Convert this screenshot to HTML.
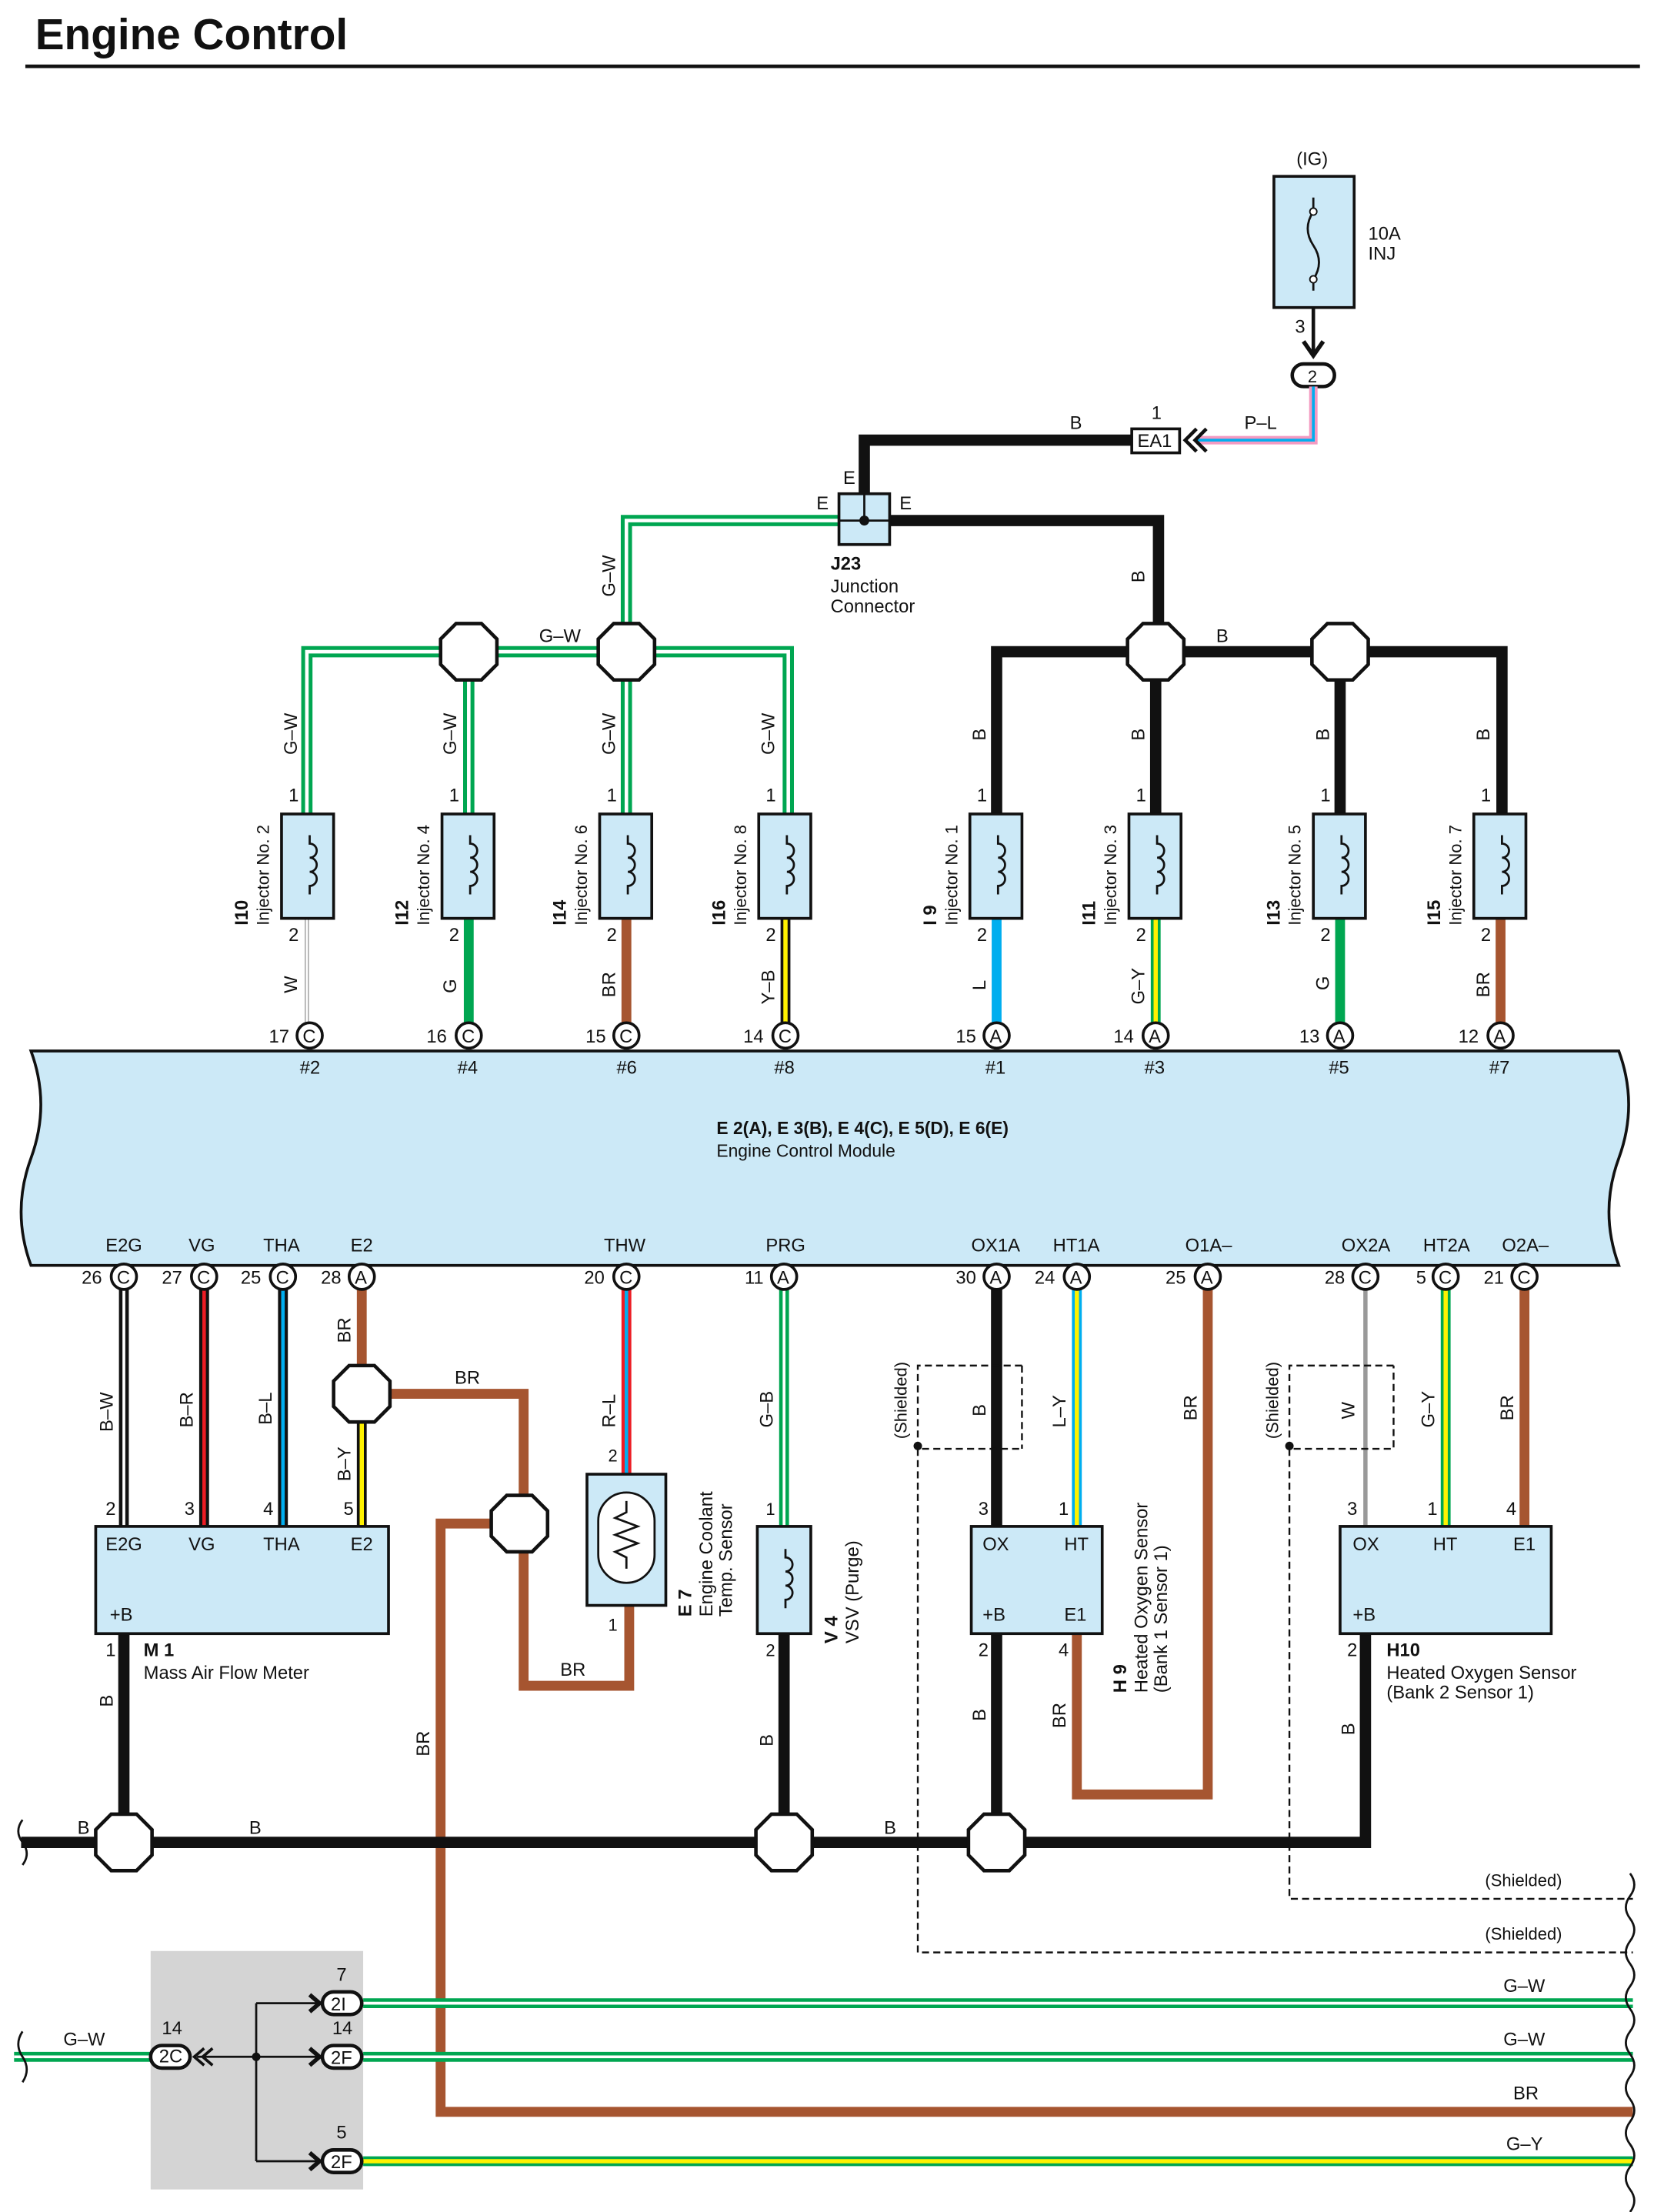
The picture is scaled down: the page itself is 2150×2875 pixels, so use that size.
<!DOCTYPE html>
<html><head><meta charset="utf-8"><style>
html,body{margin:0;padding:0;background:#fff;}
svg{display:block}
text{font-family:"Liberation Sans",Arial,sans-serif;font-size:13px;fill:#111}
</style></head><body>
<svg width="2150" height="2875" viewBox="0 0 1175 1568" preserveAspectRatio="none" xmlns="http://www.w3.org/2000/svg">
<defs>
<g id="oct"><polygon points="-9,-20 9,-20 20,-9 20,9 9,20 -9,20 -20,9 -20,-9" fill="#fff" stroke="#111" stroke-width="2.5"/></g>
<g id="coil"><path d="M-2,-22 v6 a5,5 0 1 1 0,10 a5,5 0 1 1 0,10 a5,5 0 1 1 0,10 v6" fill="none" stroke="#111" stroke-width="1.5"/></g>
</defs>
<text x="25" y="35" style="font-size:31px;font-weight:bold">Engine Control</text>
<line x1="18" y1="47" x2="1165" y2="47" stroke="#111" stroke-width="2.5"/>

<!-- fuse -->
<text x="921" y="117">(IG)</text>
<rect x="905" y="125" width="57" height="93" fill="#cce9f7" stroke="#111" stroke-width="2"/>
<path d="M933,140 v10 q-8,12 0,24 q8,12 0,24 v8" fill="none" stroke="#111" stroke-width="1.5"/>
<circle cx="933" cy="150" r="2.5" fill="#fff" stroke="#111"/><circle cx="933" cy="198" r="2.5" fill="#fff" stroke="#111"/>
<text x="972" y="170">10A</text><text x="972" y="184">INJ</text>
<text x="920" y="236">3</text>
<line x1="933" y1="218" x2="933" y2="252" stroke="#111" stroke-width="2.5"/>
<path d="M926,242 l7,10 l7,-10" fill="none" stroke="#111" stroke-width="3"/>
<rect x="918" y="258" width="30" height="16" rx="8" fill="#fff" stroke="#111" stroke-width="2.5"/>
<text x="929" y="271" style="font-size:12px">2</text>
<path d="M933,274 V312 H850" fill="none" stroke="#f49ac1" stroke-width="6"/>
<path d="M933,274 V312 H850" fill="none" stroke="#00aeef" stroke-width="2"/>
<text x="884" y="304">P–L</text>
<path d="M850,304 l-8,8 l8,8 M857,304 l-8,8 l8,8" fill="none" stroke="#111" stroke-width="2.5"/>
<rect x="804" y="304" width="34" height="17" fill="#fff" stroke="#111" stroke-width="2"/>
<text x="808" y="317">EA1</text><text x="818" y="297">1</text>
<path d="M804,312 H614 V352" fill="none" stroke="#111" stroke-width="8"/>
<text x="760" y="304">B</text>
<!-- G-W from J23 -->
<path d="M596,369 H445 V462" fill="none" stroke="#00a651" stroke-width="8"/>
<path d="M596,369 H445 V462" fill="none" stroke="#fff" stroke-width="2.5"/>
<path d="M632,369 H823 V462" fill="none" stroke="#111" stroke-width="8"/>
<rect x="596" y="350" width="36" height="36" fill="#cce9f7" stroke="#111" stroke-width="2"/>
<path d="M614,350 V369 M596,369 H632" stroke="#111" stroke-width="1.5"/>
<circle cx="614" cy="369" r="3.5" fill="#111"/>
<text x="599" y="343">E</text><text x="580" y="361">E</text><text x="639" y="361">E</text>
<text x="590" y="404" style="font-weight:bold">J23</text>
<text x="590" y="420">Junction</text><text x="590" y="434">Connector</text>
<text transform="translate(437,423) rotate(-90)">G–W</text>
<text transform="translate(813,413) rotate(-90)">B</text>

<!-- G-W bus -->
<g fill="none">
<path d="M218,577 V462 H560 V577 M333,462 V577 M445,462 V577" stroke="#00a651" stroke-width="8"/>
<path d="M218,577 V462 H560 V577 M333,462 V577 M445,462 V577" stroke="#fff" stroke-width="2.5"/>
<path d="M708,577 V462 H1067 V577 M821,462 V577 M952,462 V577" stroke="#111" stroke-width="8"/>
</g>
<text x="383" y="455">G–W</text><text x="864" y="455">B</text>
<use href="#oct" x="333" y="462"/><use href="#oct" x="445" y="462"/><use href="#oct" x="821" y="462"/><use href="#oct" x="952" y="462"/>

<!-- injectors -->
<g id="injs">
<!-- lower wires -->
<line x1="218" y1="651" x2="218" y2="726" stroke="#999" stroke-width="3"/><line x1="218" y1="651" x2="218" y2="726" stroke="#fff" stroke-width="1.5"/>
<line x1="333" y1="651" x2="333" y2="726" stroke="#00a651" stroke-width="7"/>
<line x1="445" y1="651" x2="445" y2="726" stroke="#a65530" stroke-width="7"/>
<line x1="558" y1="651" x2="558" y2="726" stroke="#111" stroke-width="7"/><line x1="558" y1="651" x2="558" y2="726" stroke="#fff200" stroke-width="3"/>
<line x1="708" y1="651" x2="708" y2="726" stroke="#00aeef" stroke-width="7"/>
<line x1="821" y1="651" x2="821" y2="726" stroke="#00a651" stroke-width="7"/><line x1="821" y1="651" x2="821" y2="726" stroke="#fff200" stroke-width="3"/>
<line x1="952" y1="651" x2="952" y2="726" stroke="#00a651" stroke-width="7"/>
<line x1="1066" y1="651" x2="1066" y2="726" stroke="#a65530" stroke-width="7"/>
</g>
<g stroke="#111" stroke-width="2" fill="#cce9f7">
<rect x="200" y="577" width="37" height="74"/><rect x="314" y="577" width="37" height="74"/><rect x="426" y="577" width="37" height="74"/><rect x="539" y="577" width="37" height="74"/>
<rect x="689" y="577" width="37" height="74"/><rect x="802" y="577" width="37" height="74"/><rect x="933" y="577" width="37" height="74"/><rect x="1047" y="577" width="37" height="74"/>
</g>
<use href="#coil" x="222" y="614"/><use href="#coil" x="336" y="614"/><use href="#coil" x="448" y="614"/><use href="#coil" x="561" y="614"/>
<use href="#coil" x="711" y="614"/><use href="#coil" x="824" y="614"/><use href="#coil" x="955" y="614"/><use href="#coil" x="1069" y="614"/>
<g style="font-size:12px">
<text x="205" y="568">1</text><text x="205" y="667">2</text>
<text x="319" y="568">1</text><text x="319" y="667">2</text>
<text x="431" y="568">1</text><text x="431" y="667">2</text>
<text x="544" y="568">1</text><text x="544" y="667">2</text>
<text x="694" y="568">1</text><text x="694" y="667">2</text>
<text x="807" y="568">1</text><text x="807" y="667">2</text>
<text x="938" y="568">1</text><text x="938" y="667">2</text>
<text x="1052" y="568">1</text><text x="1052" y="667">2</text>
</g>
<g>
<text transform="translate(211,535) rotate(-90)">G–W</text><text transform="translate(324,535) rotate(-90)">G–W</text>
<text transform="translate(437,535) rotate(-90)">G–W</text><text transform="translate(550,535) rotate(-90)">G–W</text>
<text transform="translate(700,525) rotate(-90)">B</text><text transform="translate(813,525) rotate(-90)">B</text>
<text transform="translate(944,525) rotate(-90)">B</text><text transform="translate(1058,525) rotate(-90)">B</text>
<text transform="translate(211,704) rotate(-90)">W</text><text transform="translate(324,704) rotate(-90)">G</text>
<text transform="translate(437,707) rotate(-90)">BR</text><text transform="translate(550,712) rotate(-90)">Y–B</text>
<text transform="translate(700,702) rotate(-90)">L</text><text transform="translate(813,712) rotate(-90)">G–Y</text>
<text transform="translate(944,702) rotate(-90)">G</text><text transform="translate(1058,707) rotate(-90)">BR</text>
</g>
<g>
<text transform="translate(176,656) rotate(-90)" style="font-weight:bold">I10</text><text transform="translate(191,656) rotate(-90)" style="font-size:12px">Injector No. 2</text>
<text transform="translate(290,656) rotate(-90)" style="font-weight:bold">I12</text><text transform="translate(305,656) rotate(-90)" style="font-size:12px">Injector No. 4</text>
<text transform="translate(402,656) rotate(-90)" style="font-weight:bold">I14</text><text transform="translate(417,656) rotate(-90)" style="font-size:12px">Injector No. 6</text>
<text transform="translate(515,656) rotate(-90)" style="font-weight:bold">I16</text><text transform="translate(530,656) rotate(-90)" style="font-size:12px">Injector No. 8</text>
<text transform="translate(665,656) rotate(-90)" style="font-weight:bold">I 9</text><text transform="translate(680,656) rotate(-90)" style="font-size:12px">Injector No. 1</text>
<text transform="translate(778,656) rotate(-90)" style="font-weight:bold">I11</text><text transform="translate(793,656) rotate(-90)" style="font-size:12px">Injector No. 3</text>
<text transform="translate(909,656) rotate(-90)" style="font-weight:bold">I13</text><text transform="translate(924,656) rotate(-90)" style="font-size:12px">Injector No. 5</text>
<text transform="translate(1023,656) rotate(-90)" style="font-weight:bold">I15</text><text transform="translate(1038,656) rotate(-90)" style="font-size:12px">Injector No. 7</text>
</g>

<!-- ECM -->
<path d="M22,745 H1150 q14,38 0,76 q-14,38 0,76 H22 q-14,-38 0,-76 q14,-38 0,-76 Z" fill="#cce9f7" stroke="#111" stroke-width="2"/>
<g style="font-size:12px">
<text x="213" y="761">#2</text><text x="325" y="761">#4</text><text x="438" y="761">#6</text><text x="550" y="761">#8</text>
<text x="700" y="761">#1</text><text x="813" y="761">#3</text><text x="944" y="761">#5</text><text x="1058" y="761">#7</text>
</g>
<text x="509" y="804" style="font-weight:bold;font-size:12.5px">E 2(A), E 3(B), E 4(C), E 5(D), E 6(E)</text>
<text x="509" y="820" style="font-size:12.5px">Engine Control Module</text>
<g style="font-size:12.5px">
<text x="75" y="887">E2G</text><text x="134" y="887">VG</text><text x="187" y="887">THA</text><text x="249" y="887">E2</text>
<text x="429" y="887">THW</text><text x="544" y="887">PRG</text><text x="690" y="887">OX1A</text><text x="748" y="887">HT1A</text><text x="842" y="887">O1A–</text>
<text x="953" y="887">OX2A</text><text x="1011" y="887">HT2A</text><text x="1067" y="887">O2A–</text>
</g>

<!-- upper pins -->
<g stroke="#111" stroke-width="2" fill="#fff">
<circle cx="220" cy="734" r="9"/><circle cx="333" cy="734" r="9"/><circle cx="445" cy="734" r="9"/><circle cx="558" cy="734" r="9"/>
<circle cx="708" cy="734" r="9"/><circle cx="821" cy="734" r="9"/><circle cx="952" cy="734" r="9"/><circle cx="1066" cy="734" r="9"/>
</g>
<g style="font-size:12px">
<text x="215" y="739">C</text><text x="328" y="739">C</text><text x="440" y="739">C</text><text x="553" y="739">C</text>
<text x="703" y="739">A</text><text x="816" y="739">A</text><text x="947" y="739">A</text><text x="1061" y="739">A</text>
<text x="191" y="739">17</text><text x="303" y="739">16</text><text x="416" y="739">15</text><text x="528" y="739">14</text>
<text x="679" y="739">15</text><text x="791" y="739">14</text><text x="923" y="739">13</text><text x="1036" y="739">12</text>
</g>

<!-- lower wires -->
<g fill="none">
<line x1="88" y1="914" x2="88" y2="1082" stroke="#111" stroke-width="7"/><line x1="88" y1="914" x2="88" y2="1082" stroke="#fff" stroke-width="2"/>
<line x1="145" y1="914" x2="145" y2="1082" stroke="#111" stroke-width="7"/><line x1="145" y1="914" x2="145" y2="1082" stroke="#ed1c24" stroke-width="2.5"/>
<line x1="201" y1="914" x2="201" y2="1082" stroke="#111" stroke-width="7"/><line x1="201" y1="914" x2="201" y2="1082" stroke="#00aeef" stroke-width="2.5"/>
<line x1="257" y1="1000" x2="257" y2="1082" stroke="#111" stroke-width="7"/><line x1="257" y1="1000" x2="257" y2="1082" stroke="#fff200" stroke-width="3"/>
<path d="M257,914 V988 H372 V1195 H447 V1138" stroke="#a65530" stroke-width="7"/>
<path d="M369,1080 H313 V1497 H1160" stroke="#a65530" stroke-width="7"/>
<line x1="445" y1="914" x2="445" y2="1045" stroke="#ed1c24" stroke-width="7"/><line x1="445" y1="914" x2="445" y2="1045" stroke="#00aeef" stroke-width="2.5"/>
<line x1="557" y1="914" x2="557" y2="1082" stroke="#00a651" stroke-width="7"/><line x1="557" y1="914" x2="557" y2="1082" stroke="#fff" stroke-width="2"/>
<line x1="708" y1="914" x2="708" y2="1082" stroke="#111" stroke-width="8"/>
<line x1="765" y1="914" x2="765" y2="1082" stroke="#00aeef" stroke-width="7"/><line x1="765" y1="914" x2="765" y2="1082" stroke="#fff200" stroke-width="3"/>
<path d="M858,914 V1272 H765 V1158" stroke="#a65530" stroke-width="7"/>
<line x1="970" y1="914" x2="970" y2="1082" stroke="#999" stroke-width="3"/>
<line x1="1027" y1="914" x2="1027" y2="1082" stroke="#00a651" stroke-width="7"/><line x1="1027" y1="914" x2="1027" y2="1082" stroke="#fff200" stroke-width="3"/>
<line x1="1083" y1="914" x2="1083" y2="1082" stroke="#a65530" stroke-width="7"/>
<!-- grounds -->
<path d="M15,1306 H970 V1158" stroke="#111" stroke-width="8"/>
<line x1="88" y1="1158" x2="88" y2="1306" stroke="#111" stroke-width="8"/>
<line x1="557" y1="1158" x2="557" y2="1306" stroke="#111" stroke-width="8"/>
<line x1="708" y1="1158" x2="708" y2="1306" stroke="#111" stroke-width="8"/>
<!-- shielded -->
<g stroke="#111" stroke-width="1.3" stroke-dasharray="5,3">
<path d="M726,968 H652 V1027 H726"/><path d="M652,1027 V1384 H1160"/>
<path d="M990,968 H916 V1027 H990 V968"/><path d="M916,1027 V1346 H1160"/>
<path d="M726,968 V1027"/>
</g>
</g>
<circle cx="652" cy="1025" r="3" fill="#111"/><circle cx="916" cy="1025" r="3" fill="#111"/>
<text transform="translate(644,1020) rotate(-90)" style="font-size:12px">(Shielded)</text>
<text transform="translate(908,1020) rotate(-90)" style="font-size:12px">(Shielded)</text>
<text x="1055" y="1337" style="font-size:12px">(Shielded)</text>
<text x="1055" y="1375" style="font-size:12px">(Shielded)</text>

<!-- lower pins -->
<g stroke="#111" stroke-width="2" fill="#fff">
<circle cx="88" cy="905" r="9"/><circle cx="145" cy="905" r="9"/><circle cx="201" cy="905" r="9"/><circle cx="257" cy="905" r="9"/>
<circle cx="445" cy="905" r="9"/><circle cx="557" cy="905" r="9"/><circle cx="708" cy="905" r="9"/><circle cx="765" cy="905" r="9"/><circle cx="858" cy="905" r="9"/>
<circle cx="970" cy="905" r="9"/><circle cx="1027" cy="905" r="9"/><circle cx="1083" cy="905" r="9"/>
</g>
<g style="font-size:12px">
<text x="83" y="910">C</text><text x="140" y="910">C</text><text x="196" y="910">C</text><text x="252" y="910">A</text>
<text x="440" y="910">C</text><text x="552" y="910">A</text><text x="703" y="910">A</text><text x="760" y="910">A</text><text x="853" y="910">A</text>
<text x="965" y="910">C</text><text x="1022" y="910">C</text><text x="1078" y="910">C</text>
<text x="58" y="910">26</text><text x="115" y="910">27</text><text x="171" y="910">25</text><text x="228" y="910">28</text>
<text x="415" y="910">20</text><text x="529" y="910">11</text><text x="679" y="910">30</text><text x="735" y="910">24</text><text x="828" y="910">25</text>
<text x="941" y="910">28</text><text x="1006" y="910">5</text><text x="1054" y="910">21</text>
</g>
<g>
<text transform="translate(80,1015) rotate(-90)">B–W</text><text transform="translate(137,1012) rotate(-90)">B–R</text>
<text transform="translate(193,1010) rotate(-90)">B–L</text><text transform="translate(249,952) rotate(-90)">BR</text>
<text transform="translate(249,1050) rotate(-90)">B–Y</text>
<text transform="translate(437,1012) rotate(-90)">R–L</text><text transform="translate(549,1012) rotate(-90)">G–B</text>
<text transform="translate(700,1004) rotate(-90)">B</text><text transform="translate(757,1012) rotate(-90)">L–Y</text>
<text transform="translate(850,1007) rotate(-90)">BR</text><text transform="translate(962,1006) rotate(-90)">W</text>
<text transform="translate(1019,1012) rotate(-90)">G–Y</text><text transform="translate(1075,1007) rotate(-90)">BR</text>
<text x="323" y="981">BR</text><text x="398" y="1188">BR</text>
<text transform="translate(305,1245) rotate(-90)">BR</text>
<text transform="translate(80,1210) rotate(-90)">B</text><text transform="translate(549,1238) rotate(-90)">B</text>
<text transform="translate(700,1220) rotate(-90)">B</text><text transform="translate(757,1225) rotate(-90)">BR</text>
<text transform="translate(962,1230) rotate(-90)">B</text>
<text x="55" y="1300">B</text><text x="177" y="1300">B</text><text x="628" y="1300">B</text>
</g>
<use href="#oct" x="257" y="988"/><use href="#oct" x="369" y="1080"/>
<use href="#oct" x="88" y="1306"/><use href="#oct" x="557" y="1306"/><use href="#oct" x="708" y="1306"/>

<!-- M1 -->
<rect x="68" y="1082" width="208" height="76" fill="#cce9f7" stroke="#111" stroke-width="2"/>
<g style="font-size:12.5px"><text x="75" y="1099">E2G</text><text x="134" y="1099">VG</text><text x="187" y="1099">THA</text><text x="249" y="1099">E2</text><text x="78" y="1149">+B</text>
<text x="75" y="1074">2</text><text x="131" y="1074">3</text><text x="187" y="1074">4</text><text x="244" y="1074">5</text><text x="75" y="1174">1</text></g>
<text x="102" y="1174" style="font-weight:bold">M 1</text><text x="102" y="1190">Mass Air Flow Meter</text>
<!-- E7 -->
<rect x="417" y="1045" width="56" height="93" fill="#cce9f7" stroke="#111" stroke-width="2"/>
<rect x="425" y="1058" width="40" height="64" rx="20" fill="#fff" stroke="#111" stroke-width="1.5"/>
<path d="M445,1064 v8 l-8,4 l16,6 l-16,6 l16,6 l-16,6 l8,4 v8" fill="none" stroke="#111" stroke-width="1.5"/>
<text x="432" y="1036" style="font-size:12px">2</text><text x="432" y="1156" style="font-size:12px">1</text>
<text transform="translate(491,1146) rotate(-90)" style="font-weight:bold">E 7</text>
<text transform="translate(506,1146) rotate(-90)">Engine Coolant</text><text transform="translate(520,1146) rotate(-90)">Temp. Sensor</text>
<!-- V4 -->
<rect x="538" y="1082" width="38" height="76" fill="#cce9f7" stroke="#111" stroke-width="2"/>
<use href="#coil" x="560" y="1120"/>
<text x="544" y="1074" style="font-size:12px">1</text><text x="544" y="1174" style="font-size:12px">2</text>
<text transform="translate(595,1165) rotate(-90)" style="font-weight:bold">V 4</text>
<text transform="translate(610,1165) rotate(-90)">VSV (Purge)</text>
<!-- H9 -->
<rect x="690" y="1082" width="93" height="76" fill="#cce9f7" stroke="#111" stroke-width="2"/>
<g style="font-size:12.5px"><text x="698" y="1099">OX</text><text x="756" y="1099">HT</text><text x="698" y="1149">+B</text><text x="756" y="1149">E1</text>
<text x="695" y="1074">3</text><text x="752" y="1074">1</text><text x="695" y="1174">2</text><text x="752" y="1174">4</text></g>
<text transform="translate(800,1200) rotate(-90)" style="font-weight:bold">H 9</text>
<text transform="translate(815,1200) rotate(-90)">Heated Oxygen Sensor</text><text transform="translate(829,1200) rotate(-90)">(Bank 1 Sensor 1)</text>
<!-- H10 -->
<rect x="952" y="1082" width="150" height="76" fill="#cce9f7" stroke="#111" stroke-width="2"/>
<g style="font-size:12.5px"><text x="961" y="1099">OX</text><text x="1018" y="1099">HT</text><text x="1075" y="1099">E1</text><text x="961" y="1149">+B</text>
<text x="957" y="1074">3</text><text x="1014" y="1074">1</text><text x="1070" y="1074">4</text><text x="957" y="1174">2</text></g>
<text x="985" y="1174" style="font-weight:bold">H10</text>
<text x="985" y="1190">Heated Oxygen Sensor</text><text x="985" y="1204">(Bank 2 Sensor 1)</text>

<!-- bottom -->
<rect x="107" y="1383" width="151" height="169" fill="#d4d4d4"/>
<g fill="none">
<line x1="10" y1="1458" x2="108" y2="1458" stroke="#00a651" stroke-width="7"/><line x1="10" y1="1458" x2="108" y2="1458" stroke="#fff" stroke-width="2"/>
<line x1="258" y1="1420" x2="1160" y2="1420" stroke="#00a651" stroke-width="7"/><line x1="258" y1="1420" x2="1160" y2="1420" stroke="#fff" stroke-width="2"/>
<line x1="258" y1="1458" x2="1160" y2="1458" stroke="#00a651" stroke-width="7"/><line x1="258" y1="1458" x2="1160" y2="1458" stroke="#fff" stroke-width="2"/>
<line x1="258" y1="1532" x2="1160" y2="1532" stroke="#00a651" stroke-width="7"/><line x1="258" y1="1532" x2="1160" y2="1532" stroke="#fff200" stroke-width="3"/>
<path d="M140,1458 H182 M182,1420 V1532 M182,1420 H226 M182,1458 H226 M182,1532 H226" stroke="#111" stroke-width="1.5"/>
<path d="M145,1452 l-7,6 l7,6 M151,1452 l-7,6 l7,6" stroke="#111" stroke-width="2"/>
<path d="M220,1414 l7,6 l-7,6 M220,1452 l7,6 l-7,6 M220,1526 l7,6 l-7,6" stroke="#111" stroke-width="3"/>
</g>
<circle cx="182" cy="1458" r="3" fill="#111"/>
<g stroke="#111" stroke-width="2.5" fill="#fff">
<rect x="107" y="1450" width="28" height="16" rx="8"/>
<rect x="229" y="1412" width="28" height="16" rx="8"/><rect x="229" y="1450" width="28" height="16" rx="8"/><rect x="229" y="1524" width="28" height="16" rx="8"/>
</g>
<g style="font-size:12px">
<text x="113" y="1462">2C</text><text x="235" y="1425">2I</text><text x="235" y="1463">2F</text><text x="235" y="1537">2F</text>
<text x="115" y="1442">14</text><text x="239" y="1404">7</text><text x="236" y="1442">14</text><text x="239" y="1516">5</text>
</g>
<text x="45" y="1450">G–W</text>
<text x="1068" y="1412">G–W</text><text x="1068" y="1450">G–W</text><text x="1075" y="1488">BR</text><text x="1070" y="1524">G–Y</text>
<!-- wavy edges -->
<g fill="none" stroke="#111" stroke-width="1.5">
<path d="M1158,1328 q6,8 0,16 q-6,8 0,16 q6,8 0,16 q-6,8 0,16 q6,8 0,16 q-6,8 0,16 q6,8 0,16 q-6,8 0,16 q6,8 0,16 q-6,8 0,16 q6,8 0,16 q-6,8 0,16 q6,8 0,16 q-6,8 0,16 q6,8 0,16"/>
<path d="M16,1290 q-6,8 0,16 q6,8 0,16"/>
<path d="M16,1440 q-6,9 0,18 q6,9 0,18"/>
</g>
</svg>
</body></html>
